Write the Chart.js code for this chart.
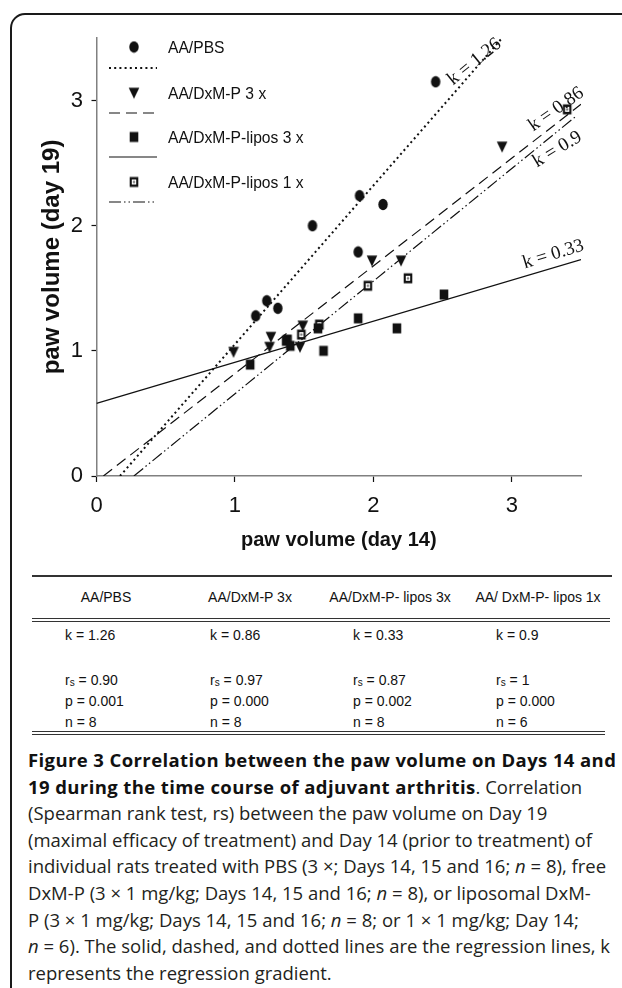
<!DOCTYPE html>
<html>
<head>
<meta charset="utf-8">
<script src="https://cdn.jsdelivr.net/npm/chart.js@4.4.1/dist/chart.umd.min.js"></script>
<style>
  html, body { margin: 0; padding: 0; background: #fff; }
  body { width: 622px; height: 988px; position: relative; overflow: hidden; font-family: "Liberation Sans", Arial, sans-serif; }
  #frame { position: absolute; left: 10px; top: 13px; width: 700px; height: 1000px; border: 2px solid #1a1a1a; border-radius: 15px; box-sizing: border-box; }
  #plot { position: absolute; left: 0; top: 0; width: 622px; height: 570px; }
  .rule { position: absolute; left: 32px; height: 0; border-top: 1px solid #333; }
  .cell { position: absolute; font-size: 14px; line-height: 16px; white-space: nowrap; color: #111; }
  .hd { transform: translateX(-50%); }
  .cell sub { font-size: 10px; vertical-align: -1px; }
  #caption { position: absolute; left: 28px; top: 747px; font-family: "Open Sans", sans-serif; font-size: 18.5px; line-height: 26.6px; color: #231f20; white-space: nowrap; }
  #caption b { color: #111; letter-spacing: 0.4px; }
</style>
</head>
<body>
<div id="frame"></div>
<div id="plot"><canvas id="chart" width="622" height="570"></canvas></div>
<div id="table"></div>
<div id="caption">
  <div><b>Figure 3 Correlation between the paw volume on Days 14 and</b></div>
  <div><b>19 during the time course of adjuvant arthritis</b>. Correlation</div>
  <div>(Spearman rank test, rs) between the paw volume on Day 19</div>
  <div>(maximal efficacy of treatment) and Day 14 (prior to treatment) of</div>
  <div>individual rats treated with PBS (3 ×; Days 14, 15 and 16; <i>n</i> = 8), free</div>
  <div>DxM-P (3 × 1 mg/kg; Days 14, 15 and 16; <i>n</i> = 8), or liposomal DxM-</div>
  <div>P (3 × 1 mg/kg; Days 14, 15 and 16; <i>n</i> = 8; or 1 × 1 mg/kg; Day 14;</div>
  <div><i>n</i> = 6). The solid, dashed, and dotted lines are the regression lines, k</div>
  <div>represents the regression gradient.</div>
</div>
<script>
const xTicks = [0, 1, 2, 3];
const yTicks = [0, 1, 2, 3];

const groups = ["AA/PBS", "AA/DxM-P 3 x", "AA/DxM-P-lipos 3 x", "AA/DxM-P-lipos 1 x"];

// paw volume day 14 (x) vs day 19 (y)
const pbsX = [2.45, 1.90, 2.07, 1.56, 1.89, 1.15, 1.23, 1.31];
const pbsY = [3.15, 2.24, 2.17, 2.00, 1.79, 1.28, 1.40, 1.34];
const dxmX = [2.93, 1.99, 2.20, 0.99, 1.26, 1.25, 1.49, 1.47];
const dxmY = [2.63, 1.72, 1.72, 0.99, 1.11, 1.03, 1.20, 1.03];
const lip3X = [1.11, 1.37, 1.40, 1.60, 1.64, 1.89, 2.17, 2.51];
const lip3Y = [0.89, 1.08, 1.04, 1.18, 1.00, 1.26, 1.18, 1.45];
const lip1X = [1.38, 1.48, 1.61, 1.96, 2.25, 3.40];
const lip1Y = [1.09, 1.13, 1.21, 1.52, 1.58, 2.93];

// regression line end points
const pbsFitX = [0.17, 2.93];
const pbsFitY = [0, 3.5];
const dxmFitX = [0.05, 3.5];
const dxmFitY = [0, 2.97];
const lip3FitX = [0, 3.5];
const lip3FitY = [0.58, 1.73];
const lip1FitX = [0.27, 3.47];
const lip1FitY = [0, 2.88];

// gradient labels on the lines
const kText = ["k = 1.26", "k = 0.86", "k = 0.9", "k = 0.33"];
const kX = [2.73, 3.32, 3.33, 3.30];
const kY = [3.31, 2.93, 2.61, 1.77];

// table under the plot
const tableHead = ["AA/PBS", "AA/DxM-P 3x", "AA/DxM-P- lipos 3x", "AA/ DxM-P- lipos 1x"];
const kVals = ["1.26", "0.86", "0.33", "0.9"];
const rsVals = ["0.90", "0.97", "0.87", "1"];
const pVals = ["0.001", "0.000", "0.002", "0.000"];
const nVals = ["8", "8", "8", "6"];

const FONT = '"Liberation Sans", Arial, sans-serif';
const INK = "#111";

function pts(xs, ys) {
  return xs.map((x, i) => ({ x, y: ys[i] }));
}

function marker(kind) {
  const c = document.createElement("canvas");
  c.width = 12;
  c.height = 13;
  const g = c.getContext("2d");
  g.fillStyle = INK;
  if (kind === "circle") {
    g.beginPath();
    g.ellipse(6, 6.5, 4.7, 5.8, 0, 0, Math.PI * 2);
    g.fill();
  } else if (kind === "tri") {
    g.beginPath();
    g.moveTo(0.7, 1.2);
    g.lineTo(11.3, 1.2);
    g.lineTo(6, 12.2);
    g.closePath();
    g.fill();
  } else if (kind === "sq") {
    g.fillRect(1.7, 1.5, 8.6, 10);
  } else {
    g.fillRect(1.7, 1.5, 8.6, 10);
    g.fillStyle = "#fff";
    g.fillRect(3.8, 4, 4.4, 5);
    g.fillStyle = "#777";
    g.beginPath();
    g.arc(6, 6.5, 1.2, 0, Math.PI * 2);
    g.fill();
  }
  return c;
}

const markers = [marker("circle"), marker("tri"), marker("sq"), marker("open")];
const dashes = [[2, 3.2], [11, 6], [], [12, 3, 1.5, 3, 1.5, 3]];
const lineWidths = [2, 1.2, 1.2, 1.2];

// legend rows (offsets from plot top)
const legendMarkY = [9, 55, 99, 144];
const legendLineY = [30, 75, 119, 164];

const overlay = {
  id: "overlay",
  afterDatasetsDraw(chart) {
    const { ctx, chartArea: a, scales } = chart;
    ctx.save();
    groups.forEach((name, i) => {
      const my = a.top + legendMarkY[i];
      const img = markers[i];
      ctx.drawImage(img, a.left + 37.5 - img.width / 2, my - img.height / 2);
      ctx.save();
      ctx.translate(a.left + 71.5, my + 1);
      ctx.scale(0.92, 1);
      ctx.font = "17px " + FONT;
      ctx.textBaseline = "middle";
      ctx.fillStyle = INK;
      ctx.fillText(name, 0, 0);
      ctx.restore();
      const ly = a.top + legendLineY[i];
      ctx.beginPath();
      ctx.setLineDash(dashes[i]);
      ctx.lineWidth = lineWidths[i];
      ctx.strokeStyle = INK;
      ctx.moveTo(a.left + 12.5, ly);
      ctx.lineTo(a.left + 60.5, ly);
      ctx.stroke();
    });
    ctx.setLineDash([]);
    const angles = [-39, -35, -31, -17];
    kText.forEach((t, i) => {
      ctx.save();
      ctx.translate(scales.x.getPixelForValue(kX[i]), scales.y.getPixelForValue(kY[i]));
      ctx.rotate((angles[i] * Math.PI) / 180);
      ctx.font = '19px "Liberation Serif", "Times New Roman", serif';
      ctx.textAlign = "center";
      ctx.textBaseline = "middle";
      ctx.fillStyle = INK;
      ctx.fillText(t, 0, 0);
      ctx.restore();
    });
    ctx.restore();
  },
};

function scatterSet(xs, ys, img) {
  return { type: "scatter", data: pts(xs, ys), pointStyle: img, pointRadius: 6, order: 1 };
}

function fitSet(xs, ys, i) {
  return {
    type: "line",
    data: pts(xs, ys),
    borderColor: INK,
    borderWidth: lineWidths[i],
    borderDash: dashes[i],
    pointRadius: 0,
    fill: false,
    order: 2,
  };
}

new Chart(document.getElementById("chart"), {
  type: "scatter",
  data: {
    datasets: [
      scatterSet(pbsX, pbsY, markers[0]),
      scatterSet(dxmX, dxmY, markers[1]),
      scatterSet(lip3X, lip3Y, markers[2]),
      scatterSet(lip1X, lip1Y, markers[3]),
      fitSet(pbsFitX, pbsFitY, 0),
      fitSet(dxmFitX, dxmFitY, 1),
      fitSet(lip3FitX, lip3FitY, 2),
      fitSet(lip1FitX, lip1FitY, 3),
    ],
  },
  options: {
    responsive: false,
    animation: false,
    events: [],
    layout: { padding: { left: 0, right: 41, top: 38, bottom: 0 } },
    plugins: { legend: { display: false }, tooltip: { enabled: false } },
    scales: {
      x: {
        type: "linear",
        min: 0,
        max: 3.5,
        afterBuildTicks: (s) => { s.ticks = xTicks.map((v) => ({ value: v })); },
        afterFit: (s) => { s.height = 94; },
        grid: { drawOnChartArea: false, tickLength: 6, tickColor: INK, tickWidth: 1.2 },
        border: { color: "#808080", width: 1.5 },
        ticks: { color: INK, font: { size: 22, family: FONT }, padding: 11, maxRotation: 0, autoSkip: false },
        title: {
          display: true,
          text: "paw volume (day 14)",
          color: INK,
          font: { size: 20, weight: "bold", family: FONT },
          padding: { top: 0, bottom: 18 },
        },
      },
      y: {
        type: "linear",
        min: 0,
        max: 3.5,
        afterBuildTicks: (s) => { s.ticks = yTicks.map((v) => ({ value: v })); },
        afterFit: (s) => { s.width = 96.5; },
        grid: { drawOnChartArea: false, tickLength: 5, tickColor: INK, tickWidth: 1.2 },
        border: { color: "#808080", width: 1.5 },
        ticks: { color: INK, font: { size: 22, family: FONT }, padding: 8.5, autoSkip: false },
        title: {
          display: true,
          text: "paw volume (day 19)",
          color: INK,
          font: { size: 24, weight: "bold", family: FONT },
          padding: { top: 37.6, bottom: 0 },
        },
      },
    },
  },
  plugins: [overlay],
});

// table
const table = document.getElementById("table");
const headX = [106, 250, 390, 538];
const colX = [65, 210, 353, 496];
function addRule(top, width, thick) {
  const d = document.createElement("div");
  d.className = "rule";
  d.style.top = top + "px";
  d.style.width = width + "px";
  d.style.borderTopWidth = thick + "px";
  table.appendChild(d);
}
function addCell(html, x, cy, head) {
  const d = document.createElement("div");
  d.className = head ? "cell hd" : "cell";
  d.style.left = x + "px";
  d.style.top = cy - 8 + "px";
  d.innerHTML = html;
  table.appendChild(d);
}
addRule(575, 580, 2);
addRule(618, 578, 1);
addRule(621, 578, 1);
addRule(731, 573, 1);
addRule(734, 573, 1);
tableHead.forEach((h, i) => addCell(h, headX[i], 597, true));
kVals.forEach((v, i) => addCell("k = " + v, colX[i], 635));
rsVals.forEach((v, i) => addCell("r<sub>s</sub> = " + v, colX[i], 680));
pVals.forEach((v, i) => addCell("p = " + v, colX[i], 701));
nVals.forEach((v, i) => addCell("n = " + v, colX[i], 722));
</script>
</body>
</html>
